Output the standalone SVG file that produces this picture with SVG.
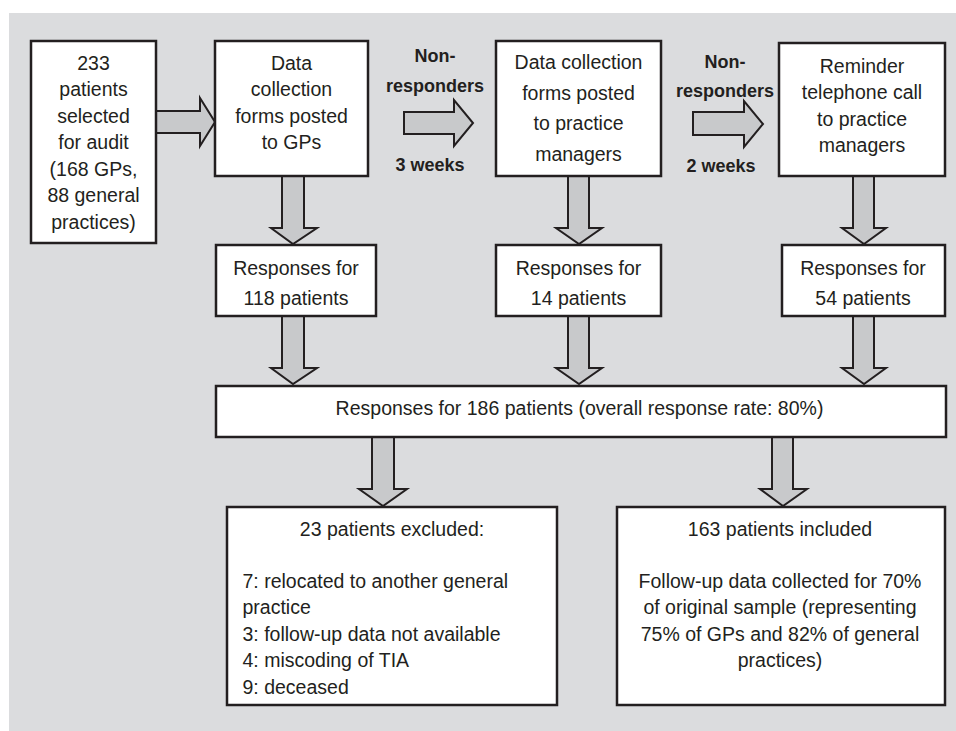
<svg xmlns="http://www.w3.org/2000/svg" width="956" height="731" viewBox="0 0 956 731">
<style>
.box{fill:#ffffff;stroke:#231f20;stroke-width:2.5}
.arr{fill:#c8c9cb;stroke:#231f20;stroke-width:2;stroke-linejoin:miter}
text{font-family:"Liberation Sans",Arial,sans-serif;font-size:19.5px;fill:#231f20}
.c{text-anchor:middle}
.b{font-weight:bold;font-size:18px}
</style>
<rect x="9" y="13" width="947" height="718" fill="#dbdcde"/>
<g id="connectors">
<polygon class="arr" points="156,111 200,111 200,98 215,122 200,146 200,133 156,133"/>
<polygon class="arr" points="404,112 454,112 454,100 473,123 454,146 454,134 404,134"/>
<polygon class="arr" points="693,112 744,112 744,101 763,124 744,147 744,135 693,135"/>
<polygon class="arr" points="282,176 304,176 304,228 317,228 293,244 271,228 282,228"/>
<polygon class="arr" points="568,176 589,176 589,228 602,228 579,244 556,228 568,228"/>
<polygon class="arr" points="853,176 874,176 874,228 886,228 864,244 842,228 853,228"/>
<polygon class="arr" points="282,316 304,316 304,368 317,368 293,384 271,368 282,368"/>
<polygon class="arr" points="568,316 589,316 589,368 602,368 579,384 556,368 568,368"/>
<polygon class="arr" points="853,316 874,316 874,368 886,368 864,384 842,368 853,368"/>
<polygon class="arr" points="372,437 394,437 394,489 407,489 383,506 359,489 372,489"/>
<polygon class="arr" points="772,437 793,437 793,489 807,489 783,506 760,489 772,489"/>
<text class="c b" x="435" y="62">Non-</text>
<text class="c b" x="435" y="92">responders</text>
<text class="c b" x="430" y="171">3 weeks</text>
<text class="c b" x="725" y="68">Non-</text>
<text class="c b" x="725" y="97">responders</text>
<text class="c b" x="721" y="172">2 weeks</text>
</g>
<g id="n-selected">
<rect class="box" x="31" y="41" width="125" height="202"/>
<text class="c" x="93.5" y="69.5">233</text>
<text class="c" x="93.5" y="96">patients</text>
<text class="c" x="93.5" y="122.5">selected</text>
<text class="c" x="93.5" y="149">for audit</text>
<text class="c" x="93.5" y="175.5">(168 GPs,</text>
<text class="c" x="93.5" y="202">88 general</text>
<text class="c" x="93.5" y="228.5">practices)</text>
</g>
<g id="n-posted-gps">
<rect class="box" x="215" y="41" width="153" height="135"/>
<text class="c" x="291.5" y="69.5">Data</text>
<text class="c" x="291.5" y="96">collection</text>
<text class="c" x="291.5" y="122.5">forms posted</text>
<text class="c" x="291.5" y="149">to GPs</text>
</g>
<g id="n-posted-managers">
<rect class="box" x="496" y="41" width="165" height="135"/>
<text class="c" x="578.5" y="69">Data collection</text>
<text class="c" x="578.5" y="99.5">forms posted</text>
<text class="c" x="578.5" y="130">to practice</text>
<text class="c" x="578.5" y="160.5">managers</text>
</g>
<g id="n-reminder">
<rect class="box" x="779" y="43" width="166" height="133"/>
<text class="c" x="862" y="72.5">Reminder</text>
<text class="c" x="862" y="99">telephone call</text>
<text class="c" x="862" y="125.5">to practice</text>
<text class="c" x="862" y="152">managers</text>
</g>
<g id="n-resp118">
<rect class="box" x="216" y="245" width="160" height="71"/>
<text class="c" x="296" y="274.5">Responses for</text>
<text class="c" x="296" y="304.5">118 patients</text>
</g>
<g id="n-resp14">
<rect class="box" x="496" y="245" width="165" height="71"/>
<text class="c" x="578.5" y="274.5">Responses for</text>
<text class="c" x="578.5" y="304.5">14 patients</text>
</g>
<g id="n-resp54">
<rect class="box" x="782" y="245" width="163" height="71"/>
<text class="c" x="863" y="274.5">Responses for</text>
<text class="c" x="863" y="304.5">54 patients</text>
</g>
<g id="n-resp186">
<rect class="box" x="216" y="386" width="730" height="51"/>
<text class="c" x="579.5" y="414.5">Responses for 186 patients (overall response rate: 80%)</text>
</g>
<g id="n-excluded">
<rect class="box" x="227" y="507" width="330" height="198"/>
<text class="c" x="392" y="536">23 patients excluded:</text>
<text x="242.5" y="587.5">7: relocated to another general</text>
<text x="242.5" y="614">practice</text>
<text x="242.5" y="640.5">3: follow-up data not available</text>
<text x="242.5" y="667">4: miscoding of TIA</text>
<text x="242.5" y="693.5">9: deceased</text>
</g>
<g id="n-included">
<rect class="box" x="617" y="507" width="328" height="198"/>
<text class="c" x="780" y="536">163 patients included</text>
<text class="c" x="780" y="587.5">Follow-up data collected for 70%</text>
<text class="c" x="780" y="614">of original sample (representing</text>
<text class="c" x="780" y="640.5">75% of GPs and 82% of general</text>
<text class="c" x="780" y="667">practices)</text>
</g>
</svg>
